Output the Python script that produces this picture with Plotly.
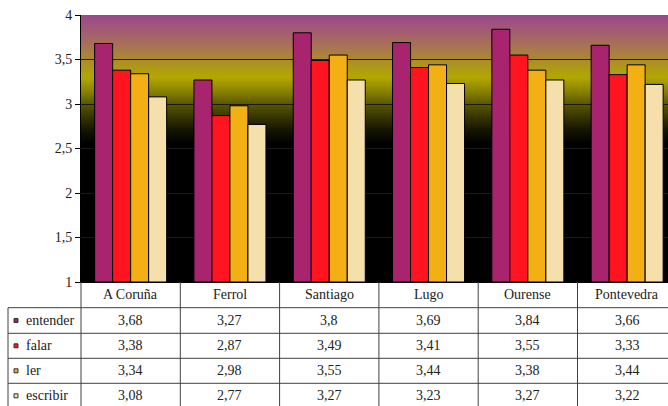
import base64
import struct
import zlib
import plotly.graph_objects as go

categories = ["A Coruña", "Ferrol", "Santiago", "Lugo", "Ourense", "Pontevedra"]
series_names = ["entender", "falar", "ler", "escribir"]
entender = [3.68, 3.27, 3.8, 3.69, 3.84, 3.66]
falar = [3.38, 2.87, 3.49, 3.41, 3.55, 3.33]
ler = [3.34, 2.98, 3.55, 3.44, 3.38, 3.44]
escribir = [3.08, 2.77, 3.27, 3.23, 3.27, 3.22]
series_values = [entender, falar, ler, escribir]
colors = ["#A8246F", "#FF1420", "#F2B014", "#F5DFAA"]
y_ticks = [1, 1.5, 2, 2.5, 3, 3.5, 4]

# gradient stops (value, color) for the plot background
grad = [(1.0, (0, 0, 0)), (2.55, (0, 0, 0)), (2.70, (20, 20, 0)), (2.85, (54, 52, 0)), (3.00, (90, 88, 0)),
        (3.15, (140, 132, 0)), (3.30, (178, 168, 0)), (3.40, (174, 154, 20)),
        (3.50, (172, 138, 46)), (3.60, (170, 122, 72)), (3.80, (164, 94, 112)),
        (4.00, (156, 72, 140))]

W, H = 668, 406
L, T, B = 81, 15, 124
col_w = 99.3
plot_w = W - L
plot_h = H - T - B
x0 = -0.5
x1 = -0.5 + plot_w / col_w


def interp(v):
    for (a, ca), (b, cb) in zip(grad[:-1], grad[1:]):
        if a <= v <= b:
            t = (v - a) / (b - a)
            return tuple(round(ca[k] + (cb[k] - ca[k]) * t) for k in range(3))
    return (0, 0, 0)


def gradient_png(n):
    raw = b""
    for r in range(n):
        v = 4 - 3 * (r + 0.5) / n
        raw += b"\x00" + bytes(interp(v))

    def chunk(tag, data):
        c = struct.pack(">I", len(data)) + tag + data
        return c + struct.pack(">I", zlib.crc32(tag + data) & 0xFFFFFFFF)

    png = b"\x89PNG\r\n\x1a\n"
    png += chunk(b"IHDR", struct.pack(">IIBBBBB", 1, n, 8, 2, 0, 0, 0))
    png += chunk(b"IDAT", zlib.compress(raw))
    png += chunk(b"IEND", b"")
    return "data:image/png;base64," + base64.b64encode(png).decode()


fig = go.Figure()
xs = list(range(len(categories)))
for name, vals, c in zip(series_names, series_values, colors):
    fig.add_trace(go.Bar(x=xs, y=[v - 1 for v in vals], base=1, name=name,
                         marker=dict(color=c, line=dict(color="black", width=1)),
                         hoverinfo="skip"))


def px(xp):
    return (xp - L) / plot_w


def py(yp):
    return (H - B - yp) / plot_h


def dx(xv):
    return (xv - x0) / (x1 - x0)


shapes = []
lc = "#404040"
row_lines = [307.7, 333.3, 358.3, 383.3]
for yl in row_lines:
    shapes.append(dict(type="line", xref="paper", yref="paper", x0=px(8), x1=1.02, y0=py(yl), y1=py(yl),
                       line=dict(color=lc, width=1)))
shapes.append(dict(type="line", xref="paper", yref="paper", x0=px(8), x1=px(8), y0=py(row_lines[0]), y1=py(410),
                   line=dict(color=lc, width=1)))
for i in range(len(categories) + 1):
    xp = dx(i - 0.5)
    shapes.append(dict(type="line", xref="paper", yref="paper", x0=xp, x1=xp, y0=0, y1=py(410),
                       line=dict(color=lc, width=1)))

ann = []
font = dict(family="Liberation Serif", size=14, color="#222")
row_centers = [320.5, 345.8, 370.8, 395.8]
for i, c in enumerate(categories):
    ann.append(dict(x=dx(i), y=py(294.5), xref="paper", yref="paper", text=c, showarrow=False,
                    font=font, xanchor="center", yanchor="middle"))
for r, (name, vals, col) in enumerate(zip(series_names, series_values, colors)):
    yc = row_centers[r]
    ann.append(dict(x=px(24), y=py(yc), xref="paper", yref="paper", text=name, showarrow=False,
                    font=font, xanchor="left", yanchor="middle"))
    shapes.append(dict(type="rect", xref="paper", yref="paper", x0=px(14), x1=px(18), y0=py(yc - 2), y1=py(yc + 2),
                       fillcolor=col, line=dict(color="#333", width=1)))
    for i, v in enumerate(vals):
        ann.append(dict(x=dx(i), y=py(yc), xref="paper", yref="paper", text=("%g" % v).replace(".", ","),
                        showarrow=False, font=font, xanchor="center", yanchor="middle"))

fig.update_layout(
    width=W, height=H,
    margin=dict(l=L, r=0, t=T, b=B, pad=0),
    paper_bgcolor="white", plot_bgcolor="black",
    barmode="group", bargap=0.275, bargroupgap=0,
    showlegend=False,
    separators=",.",
    shapes=shapes, annotations=ann,
    images=[dict(source=gradient_png(plot_h), xref="paper", yref="y", x=0, y=4, sizex=1, sizey=3,
                 sizing="stretch", xanchor="left", yanchor="top", layer="below")],
    xaxis=dict(range=[x0, x1], showticklabels=False, showgrid=False, zeroline=False,
               showline=True, linecolor="black", linewidth=1, ticks=""),
    yaxis=dict(range=[1, 4], tickvals=y_ticks, ticktext=[("%g" % t).replace(".", ",") for t in y_ticks],
               showgrid=True, gridcolor="#1a1a1a", gridwidth=1, zeroline=False,
               showline=True, linecolor="black", linewidth=1, ticks="outside", ticklen=5,
               tickcolor="black", tickfont=dict(family="Liberation Serif", size=14, color="#222")),
)
fig.write_html("out.html", config={"displayModeBar": False},
               post_script="document.body.style.margin='0';document.body.style.overflow='hidden';")
